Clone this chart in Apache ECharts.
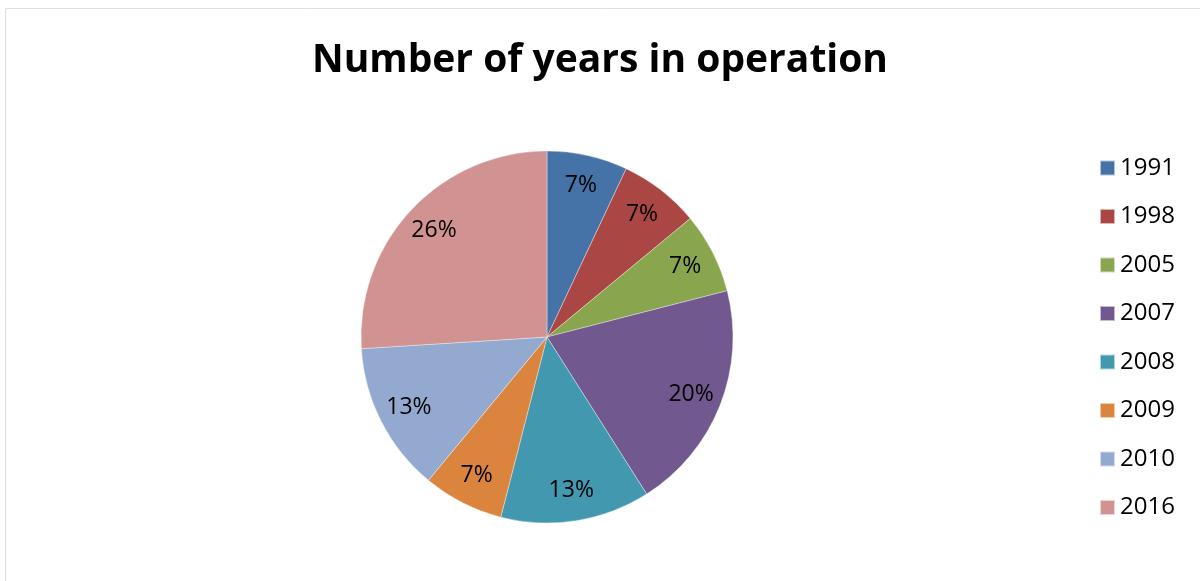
<!DOCTYPE html>
<html>
<head>
<meta charset="utf-8">
<script src="https://cdn.jsdelivr.net/npm/echarts@6/dist/echarts.min.js"></script>
<style>
  html, body { margin: 0; padding: 0; background: #ffffff; }
  #chart { width: 1200px; height: 581px; }
</style>
</head>
<body>
<div id="chart"></div>
<script>
// Founding years and their share of organisations (percent)
const years = ['1991', '1998', '2005', '2007', '2008', '2009', '2010', '2016'];
const shares = [7, 7, 7, 20, 13, 7, 13, 26];
const sliceColors = ['#4572A7', '#AA4643', '#89A54E', '#71588F', '#4198AF', '#DB843D', '#93A9CF', '#D19392'];

const pieData = years.map((y, i) => ({ name: y, value: shares[i] }));
const center = [547, 337];
const R = 186;

const chart = echarts.init(document.getElementById('chart'), null, { renderer: 'canvas' });
chart.setOption({
  animation: false,
  color: sliceColors,
  title: {
    text: 'Number of years in operation',
    left: 'center',
    top: 41,
    padding: 0,
    textStyle: { fontFamily: 'Open Sans', fontWeight: 'bold', fontSize: 39, color: '#000' }
  },
  legend: {
    data: years,
    orient: 'vertical',
    left: 1094,
    top: 151,
    itemWidth: 15,
    itemHeight: 15,
    itemGap: 24.5,
    icon: 'rect',
    textStyle: { fontFamily: 'Open Sans', fontSize: 24, color: '#000' }
  },
  graphic: [{
    type: 'rect',
    silent: true,
    shape: { x: 5.5, y: 8.5, width: 1400, height: 800 },
    style: { fill: null, stroke: '#d6e1ee', lineWidth: 1 }
  }],
  series: [
    {
      type: 'pie',
      center: center,
      radius: [0, R],
      startAngle: 90,
      clockwise: true,
      silent: true,
      label: { show: false },
      labelLine: { show: false },
      itemStyle: { borderColor: 'rgba(255,255,255,0.6)', borderWidth: 0.6 },
      data: pieData
    },
    {
      // transparent ring that carries the percentage labels further out
      type: 'pie',
      center: center,
      radius: [118, R],
      startAngle: 90,
      clockwise: true,
      silent: true,
      itemStyle: { color: 'rgba(0,0,0,0)' },
      label: {
        show: true,
        position: 'inside',
        formatter: p => p.value + '%',
        fontFamily: 'Open Sans',
        fontSize: 23,
        color: '#000'
      },
      labelLine: { show: false },
      data: pieData
    }
  ]
});
</script>
</body>
</html>
